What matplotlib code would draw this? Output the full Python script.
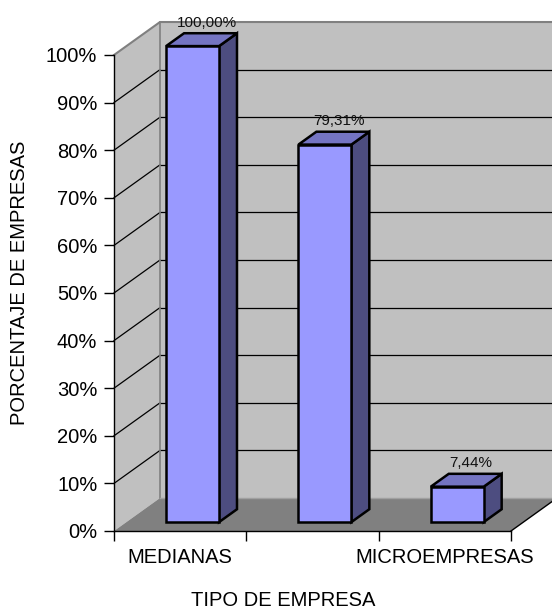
import matplotlib
matplotlib.use("Agg")
import matplotlib.pyplot as plt
from matplotlib.patches import Polygon
from matplotlib.ticker import PercentFormatter, FixedLocator, NullFormatter

plt.rcParams["font.family"] = ["Liberation Sans", "DejaVu Sans"]

# Data
categories = ["MEDIANAS", "", "MICROEMPRESAS"]
values = [100.00, 79.31, 7.44]
value_labels = ["100,00%", "79,31%", "7,44%"]
y_ticks = list(range(0, 101, 10))

# 3D look: depth offset of the back plane in data units
DX, DY = 0.3476, 6.93
BAR_W = 0.40
F_FRONT, F_BACK = 0.27, 0.66

FACE = "#9999FF"
TOP = "#7474C2"
SIDE = "#4D4D80"
WALL = "#C0C0C0"
FLOOR = "#808080"
EDGE_GRAY = "#808080"

W, H = 552, 614
fig = plt.figure(figsize=(W / 100, H / 100), dpi=100)
ax = fig.add_axes([114 / W, (H - 531) / H, 397 / W, 476 / H])
ax.set_xlim(0, len(categories))
ax.set_ylim(0, 100)
ax.patch.set_visible(False)

n = len(categories)
ymax = 100

# walls and floor
left_wall = Polygon([(0, 0), (DX, DY), (DX, ymax + DY), (0, ymax)],
                    closed=True, fc=WALL, ec="none", zorder=0.5, clip_on=False)
back_wall = Polygon([(DX, DY), (n + DX + 0.2, DY), (n + DX + 0.2, ymax + DY), (DX, ymax + DY)],
                    closed=True, fc=WALL, ec="none", zorder=0.5, clip_on=False)
floor = Polygon([(0, 0), (n, 0), (n + DX, DY), (DX, DY)],
                closed=True, fc=FLOOR, ec="none", zorder=0.8, clip_on=False)
for p in (left_wall, back_wall, floor):
    ax.add_patch(p)

# gridlines on walls
for v in y_ticks[1:-1]:
    ax.plot([0, DX], [v, v + DY], color="black", lw=0.9, zorder=0.7, clip_on=False)
    ax.plot([DX, n + DX + 0.2], [v + DY, v + DY], color="black", lw=0.9, zorder=0.7, clip_on=False)

# wall borders
ax.plot([0, DX, n + DX + 0.2], [ymax, ymax + DY, ymax + DY], color=EDGE_GRAY, lw=1.5,
        zorder=0.75, clip_on=False)
ax.plot([DX, DX], [DY, ymax + DY], color=EDGE_GRAY, lw=1.2, zorder=0.75, clip_on=False)
ax.plot([DX, n + DX], [DY, DY], color="#A0A0A0", lw=1.0, zorder=0.85, clip_on=False)
ax.plot([n, n + DX], [0, DY], color="black", lw=1.0, zorder=0.85, clip_on=False)

# bars
for i, v in enumerate(values):
    x0 = i + 0.5 - BAR_W / 2 + F_FRONT * DX
    x1 = i + 0.5 + BAR_W / 2 + F_FRONT * DX
    y0 = F_FRONT * DY
    ddx = (F_BACK - F_FRONT) * DX
    ddy = (F_BACK - F_FRONT) * DY
    kw = dict(closed=True, ec="black", lw=1.8, joinstyle="miter", clip_on=False, zorder=3)
    ax.add_patch(Polygon([(x1, y0), (x1 + ddx, y0 + ddy), (x1 + ddx, y0 + v + ddy), (x1, y0 + v)],
                         fc=SIDE, **kw))
    ax.add_patch(Polygon([(x0, y0 + v), (x1, y0 + v), (x1 + ddx, y0 + v + ddy), (x0 + ddx, y0 + v + ddy)],
                         fc=TOP, **kw))
    ax.add_patch(Polygon([(x0, y0), (x1, y0), (x1, y0 + v), (x0, y0 + v)], fc=FACE, **kw))
    ax.annotate(value_labels[i], xy=((x0 + x1) / 2 + ddx / 2, y0 + v + ddy / 2),
                xytext=(5, 17), textcoords="offset pixels", ha="center", va="center",
                fontsize=11, color="#111111", zorder=5, annotation_clip=False)

# axes
for side in ("top", "right"):
    ax.spines[side].set_visible(False)
for side in ("left", "bottom"):
    ax.spines[side].set_color("black")
    ax.spines[side].set_linewidth(1.0)
    ax.spines[side].set_zorder(4)

ax.yaxis.set_major_locator(FixedLocator(y_ticks))
ax.yaxis.set_major_formatter(PercentFormatter(xmax=100, decimals=0))
ax.tick_params(axis="y", direction="out", length=7, width=1, labelsize=14.5, pad=5)

ax.xaxis.set_major_locator(FixedLocator(range(n + 1)))
ax.xaxis.set_major_formatter(NullFormatter())
ax.xaxis.set_minor_locator(FixedLocator([i + 0.5 for i in range(n)]))
ax.set_xticklabels(categories, minor=True)
ax.tick_params(axis="x", which="major", direction="out", length=7, width=1)
ax.tick_params(axis="x", which="minor", length=0, labelsize=14.5, pad=12)

fig.text(20 / W, 1 - 283 / H, "PORCENTAJE DE EMPRESAS", rotation=90,
         ha="center", va="center", fontsize=14.5)
fig.text(283 / W, 1 - 601 / H, "TIPO DE EMPRESA", ha="center", va="center", fontsize=14.5)

fig.savefig("out.png", dpi=100)
